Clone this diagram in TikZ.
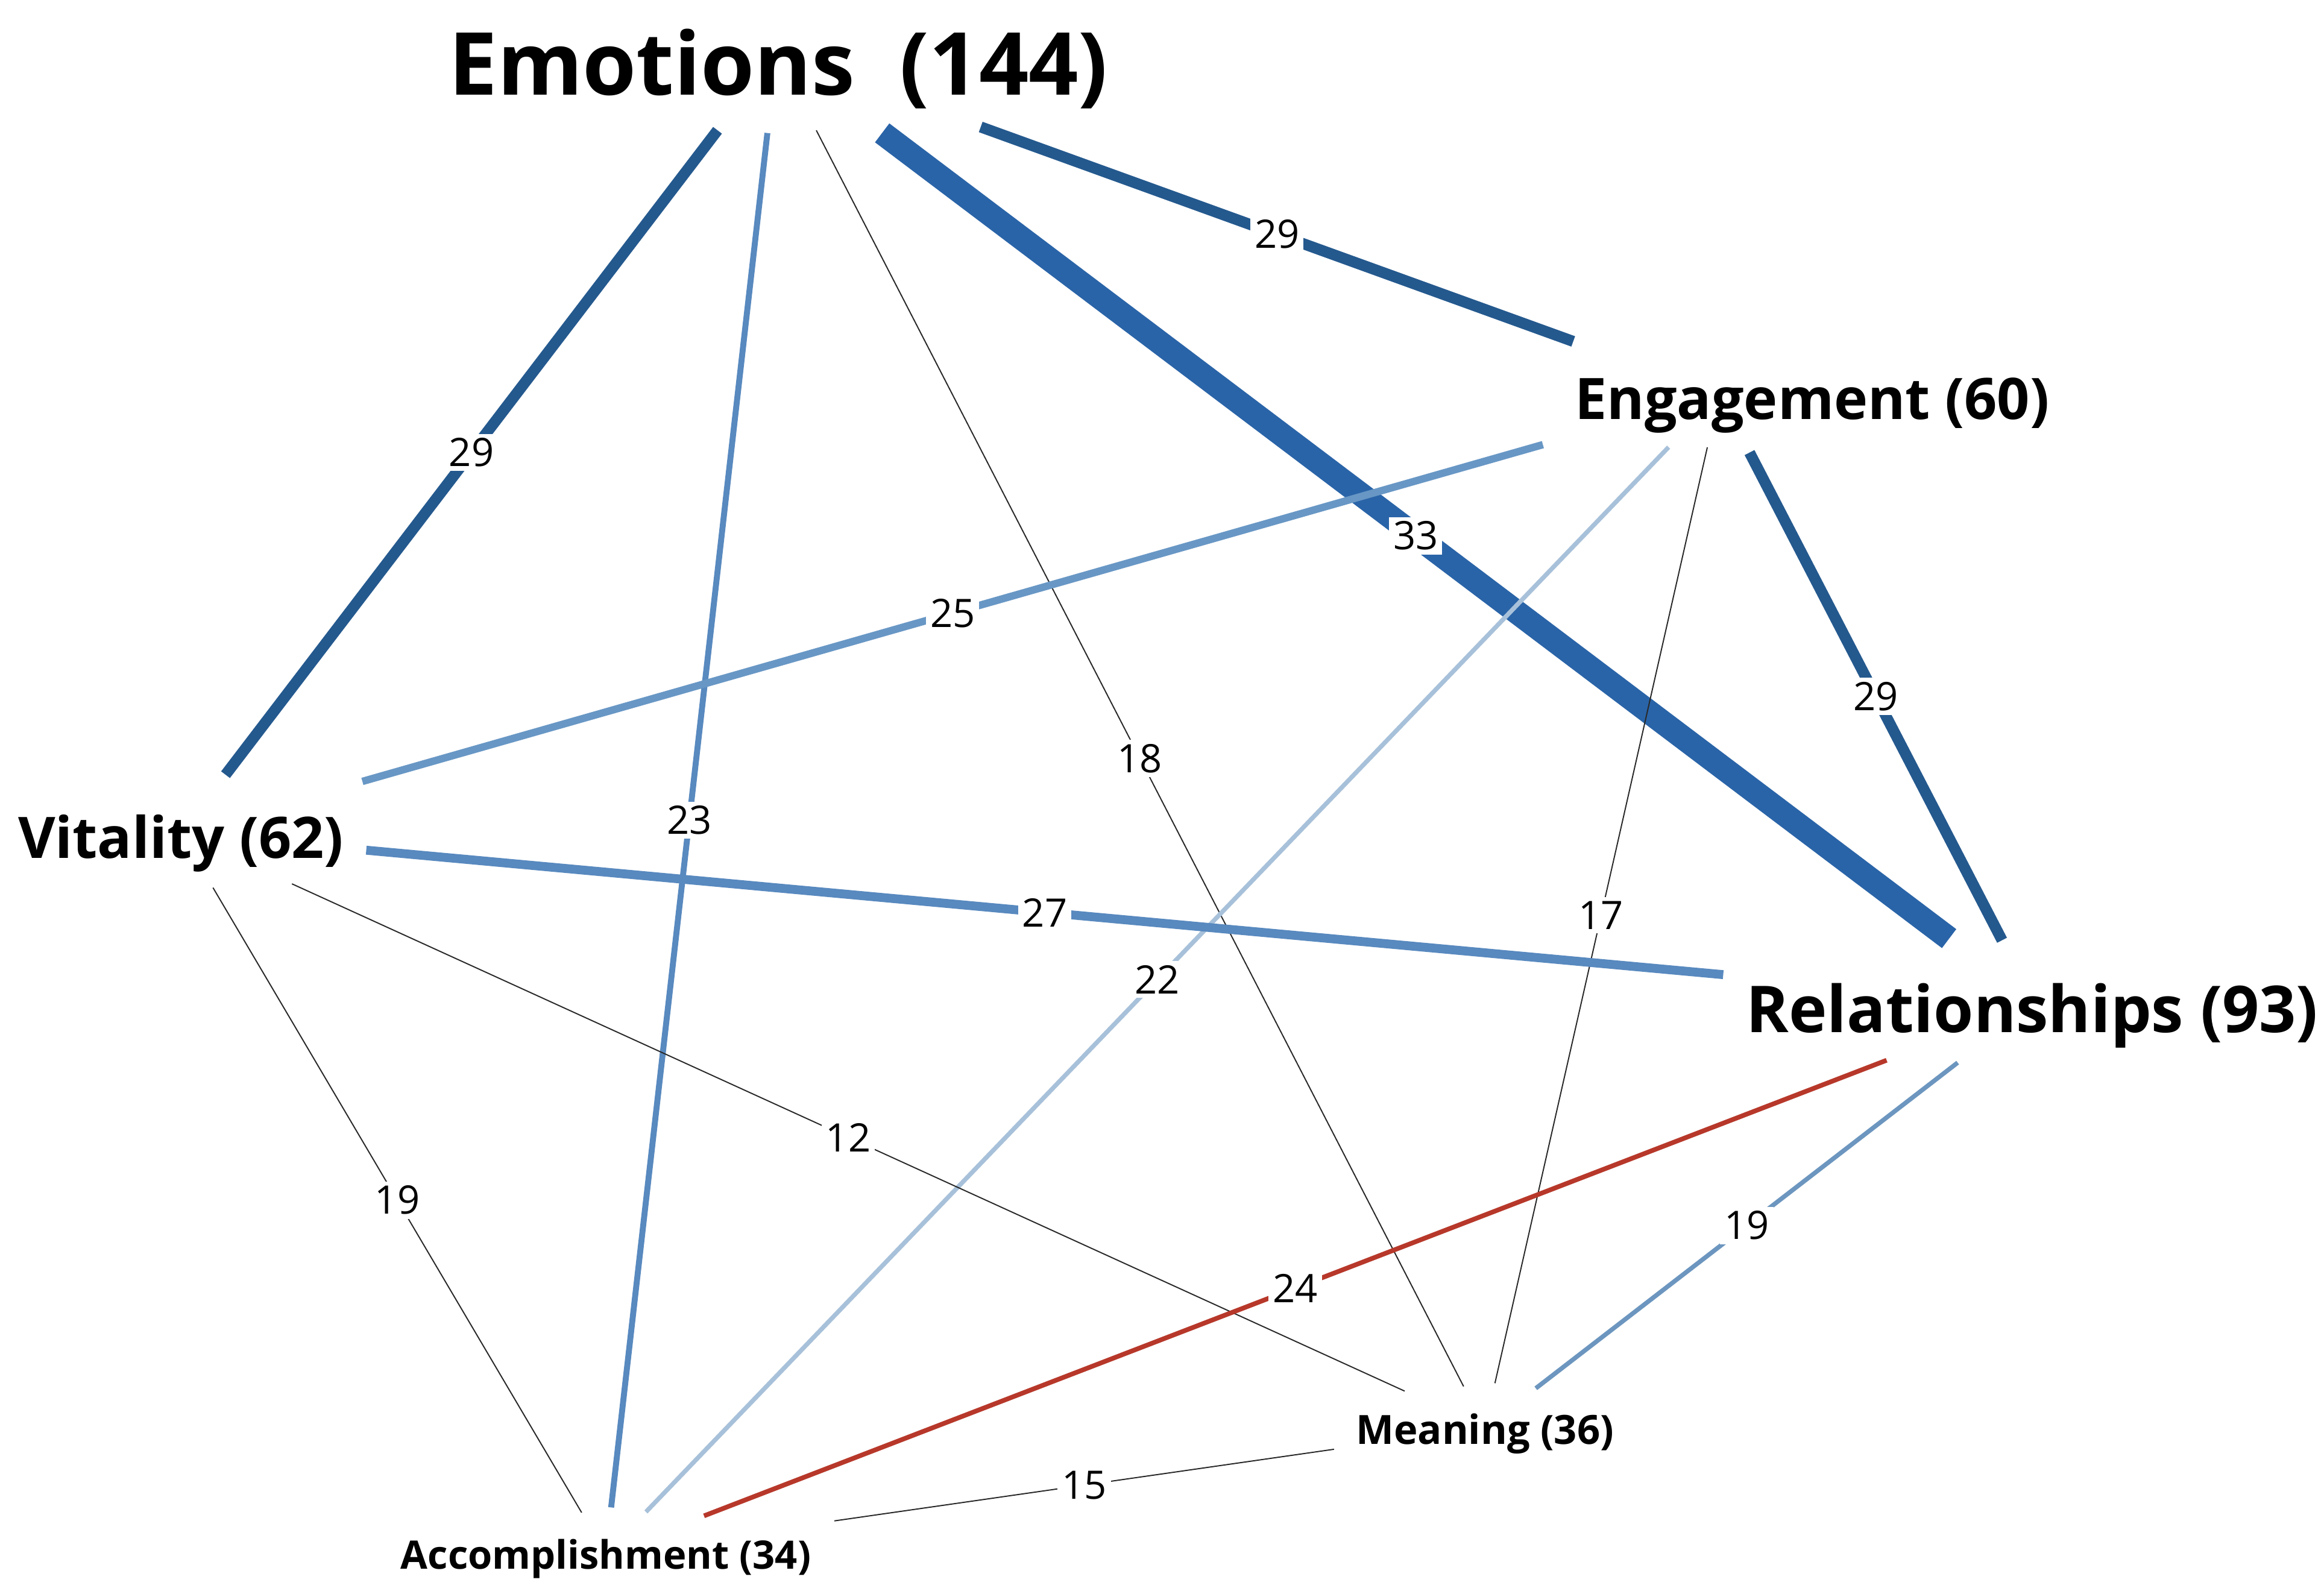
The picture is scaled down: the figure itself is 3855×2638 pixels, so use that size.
\documentclass[tikz,border=0pt]{standalone}
\usepackage{fontspec}
\setmainfont{Open Sans}
\usetikzlibrary{calc}
\definecolor{cdark}{RGB}{36,89,142}
\definecolor{cthick}{RGB}{42,100,168}
\definecolor{cmid}{RGB}{88,137,191}
\definecolor{cmidb}{RGB}{104,151,197}
\definecolor{clight}{RGB}{168,193,218}
\definecolor{cnineteen}{RGB}{108,150,191}
\definecolor{cred}{RGB}{183,56,42}
\definecolor{cthin}{RGB}{40,40,40}
\begin{document}
\begin{tikzpicture}[x=0.01cm,y=-0.01cm,
  lbl/.style={fill=white,inner sep=2pt,text=black,font=\fontsize{18.5}{18.5}\selectfont},
  nd/.style={anchor=base,inner sep=0pt,text=black},
  wthirtythree/.style={draw=cthick,line width=11.2pt},
  wtwentynine/.style={draw=cdark,line width=5.2pt},
  wtwentyseven/.style={draw=cmid,line width=4.2pt},
  wtwentyfive/.style={draw=cmidb,line width=3.5pt},
  wtwentythree/.style={draw=cmid,line width=2.8pt},
  wtwentytwo/.style={draw=clight,line width=2.1pt},
  wnineteen/.style={draw=cnineteen,line width=2.1pt},
  wred/.style={draw=cred,line width=2.2pt},
  wthin/.style={draw=cthin,line width=0.55pt}]
\useasboundingbox[fill=white] (0,0) rectangle (3855,2638);
% convergence centres of the nodes
\coordinate (E) at (1288,88);
\coordinate (G) at (2852,654);
\coordinate (V) at (300,1382);
\coordinate (R) at (3375,1664);
\coordinate (M) at (2463,2368);
\coordinate (A) at (1005,2577);
% edges
\draw[wthirtythree] ($(E)!0.084!(R)$) -- ($(E)!0.932!(R)$) node[lbl,midway] {33};
\draw[wtwentynine] ($(E)!0.099!(V)$) -- ($(E)!0.925!(V)$) node[lbl,midway] {29};
\draw[wtwentynine] ($(E)!0.2166!(G)$) -- ($(E)!0.845!(G)$) node[lbl,midway] {29};
\draw[wtwentynine] ($(G)!0.0957!(R)$) -- ($(G)!0.8966!(R)$) node[lbl,midway] {29};
\draw[wtwentythree] ($(E)!0.0533!(A)$) -- ($(E)!0.9692!(A)$) node[lbl,midway] {23};
\draw[wthin] ($(E)!0.0562!(M)$) -- ($(E)!0.970!(M)$) node[lbl,midway] {18};
\draw[wtwentyfive] ($(G)!0.1147!(V)$) -- ($(G)!0.882!(V)$) node[lbl,midway] {25};
\draw[wtwentytwo] ($(G)!0.0456!(A)$) -- ($(G)!0.964!(A)$) node[lbl,midway] {22};
\draw[wthin] ($(G)!0.0513!(M)$) -- ($(G)!0.957!(M)$) node[lbl,midway] {17};
\draw[wtwentyseven] ($(V)!0.10!(R)$) -- ($(V)!0.832!(R)$) node[lbl,midway] {27};
\draw[wthin] ($(V)!0.0852!(M)$) -- ($(V)!0.9385!(M)$) node[lbl,midway] {12};
\draw[wthin] ($(V)!0.0756!(A)$) -- ($(V)!0.943!(A)$) node[lbl,midway] {19};
\draw[wred] ($(R)!0.1036!(A)$) -- ($(R)!0.9313!(A)$) node[lbl,midway] {24};
\draw[wnineteen] ($(R)!0.14!(M)$) -- ($(R)!0.9073!(M)$) node[lbl,midway] {19};
\draw[wthin] ($(M)!0.1716!(A)$) -- ($(M)!0.740!(A)$) node[lbl,midway] {15};
% node labels
\node[nd,font=\bfseries\fontsize{41}{41}\selectfont] (Et) at (1291,157) {Emotions\ \ (144)};
\node[nd,font=\bfseries\fontsize{27}{27}\selectfont] (Gt) at (3006,695) {Engagement (60)};
\node[nd,font=\bfseries\fontsize{27}{27}\selectfont] (Vt) at (300,1423) {Vitality (62)};
\node[nd,font=\bfseries\fontsize{30.5}{30.5}\selectfont] (Rt) at (3371,1712) {Relationships (93)};
\node[nd,font=\bfseries\fontsize{19}{19}\selectfont] (Mt) at (2463,2395) {Meaning (36)};
\node[nd,font=\bfseries\fontsize{18.5}{18.5}\selectfont] (At) at (1005,2602) {Accomplishment (34)};
\end{tikzpicture}
\end{document}
